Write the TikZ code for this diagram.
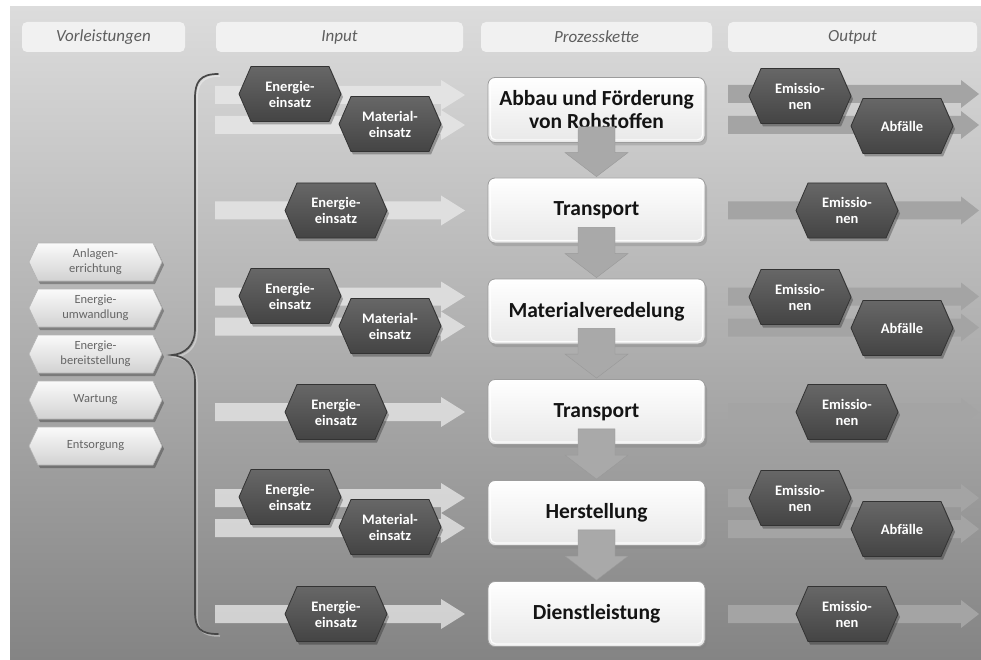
\documentclass[tikz,border=0pt]{standalone}
\usepackage{fontspec}
\setmainfont{Carlito}
\usetikzlibrary{shadows,calc}
\definecolor{bgtop}{HTML}{DCDCDC}
\definecolor{bgbot}{HTML}{848484}
\definecolor{hdrfill}{HTML}{F1F1F1}
\definecolor{hdrtext}{HTML}{5E5E5E}
\definecolor{hexdtop}{HTML}{676767}
\definecolor{hexdbot}{HTML}{444444}
\definecolor{hexdline}{HTML}{333333}
\definecolor{hexltop}{HTML}{FAFAFA}
\definecolor{hexlbot}{HTML}{D2D2D2}
\definecolor{hexlline}{HTML}{B4B4B4}
\definecolor{hexltext}{HTML}{656565}
\definecolor{inarrc}{HTML}{EAEAEA}
\definecolor{outarrc}{HTML}{A4A4A4}
\definecolor{downarrc}{HTML}{A9A9A9}
\definecolor{bracec}{HTML}{474747}
\definecolor{procline}{HTML}{9C9C9C}

% hexagon outline: style, x, y, half width, half height, inset
\newcommand\hexshape[6]{%
  \path[#1] ({#2-#4},{#3}) -- ({#2-#4+#6},{#3-#5}) -- ({#2+#4-#6},{#3-#5})
    -- ({#2+#4},{#3}) -- ({#2+#4-#6},{#3+#5}) -- ({#2-#4+#6},{#3+#5}) -- cycle;}
% dark hexagon: name, x, y, text
\newcommand\darkhex[4]{%
  \hexshape{hexshadow}{#2+2}{#3+3}{51}{27.5}{12}%
  \hexshape{hexdark}{#2}{#3}{51}{27.5}{12}%
  \node[hextext] (#1) at (#2,#3) {#4};}
% light hexagon: name, y, text
\newcommand\lighthex[3]{%
  \hexshape{hexshadow}{97.5}{#2+3}{66.5}{19}{9}%
  \hexshape{hexlight}{95.5}{#2}{66.5}{19}{9}%
  \node[hexltextstyle] (#1) at (95.5,#2) {#3};}
% fat horizontal arrow: style, x1, x2, y, shaft half, head half, head length
\newcommand\fatarr[7]{%
  \fill[#1] (#2,{#4-#5}) -- ({#3-#7},{#4-#5}) -- ({#3-#7},{#4-#6}) -- (#3,#4)
    -- ({#3-#7},{#4+#6}) -- ({#3-#7},{#4+#5}) -- (#2,{#4+#5}) -- cycle;}
% down arrow between two process boxes
\newcommand\downarr[2]{%
  \path[downarrstyle] ([xshift=-18.5pt,yshift=16pt]#1.south)
    -- ([xshift=-18.5pt,yshift=25pt]#2.north)
    -- ([xshift=-31.5pt,yshift=25pt]#2.north)
    -- ([yshift=1pt]#2.north)
    -- ([xshift=31.5pt,yshift=25pt]#2.north)
    -- ([xshift=18.5pt,yshift=25pt]#2.north)
    -- ([xshift=18.5pt,yshift=16pt]#1.south) -- cycle;}

\begin{document}
\begin{tikzpicture}[x=1pt,y=-1pt,
  header/.style={rounded corners=5pt, fill=hdrfill, minimum height=30pt,
    inner sep=0pt, text=hdrtext, font=\fontsize{17}{20}\selectfont\itshape},
  hexshadow/.style={fill=black, opacity=0.28},
  hexdark/.style={top color=hexdtop, bottom color=hexdbot, draw=hexdline, line width=0.8pt},
  hextext/.style={text=white, align=center, inner sep=0pt,
    font=\fontsize{14.5}{16}\selectfont\bfseries},
  hexlight/.style={top color=hexltop, bottom color=hexlbot, draw=hexlline, line width=0.6pt},
  hexltextstyle/.style={text=hexltext, align=center, inner sep=0pt,
    font=\fontsize{12.5}{15}\selectfont},
  procbox/.style={rounded corners=7pt, minimum width=217pt, minimum height=65pt,
    top color=white, bottom color=black!9, draw=procline, line width=0.8pt,
    align=center, inner sep=0pt, text=black!92,
    font=\fontsize{21.5}{23}\selectfont\bfseries,
    drop shadow={shadow xshift=2pt, shadow yshift=-3pt, opacity=0.35}},
  procinner/.style={rounded corners=5pt, draw=white, line width=1.2pt, opacity=0.9},
  inarr/.style={fill=inarrc, opacity=0.75},
  outarr/.style={fill=outarrc},
  downarrstyle/.style={fill=downarrc, draw=black!40, line width=0.4pt},
  bracestyle/.style={draw=bracec, line width=1.7pt, line cap=round}]

\useasboundingbox (0,0) rectangle (981,660);
\fill[white] (0,0) rectangle (981,660);
\fill[top color=bgtop, bottom color=bgbot] (10,7) rectangle (981,660);

% headers
\node[header, minimum width=163pt] (hv) at (103.5,37) {Vorleistungen};
\node[header, minimum width=247pt] (hi) at (339.5,37) {Input};
\node[header, minimum width=231pt] (hp) at (596.5,37) {Prozesskette};
\node[header, minimum width=249pt] (ho) at (852.5,37) {Output};

% brace
\draw[draw=white, opacity=0.35, line width=1.5pt]
  (220,76) .. controls (202,76) and (197,84) .. (197,100) -- (197,332)
  .. controls (197,347) and (187,356) .. (174,357)
  .. controls (187,358) and (197,367) .. (197,382) -- (197,614)
  .. controls (197,630) and (202,636) .. (220,636);
\draw[bracestyle]
  (218,74) .. controls (200,74) and (195,82) .. (195,98) -- (195,330)
  .. controls (195,345) and (185,354) .. (172,355)
  .. controls (185,356) and (195,365) .. (195,380) -- (195,612)
  .. controls (195,628) and (200,634) .. (218,634);

% Vorleistungen
\lighthex{v1}{262}{Anlagen-\\errichtung}
\lighthex{v2}{308}{Energie-\\umwandlung}
\lighthex{v3}{354}{Energie-\\bereitstellung}
\lighthex{v4}{400}{Wartung}
\lighthex{v5}{446}{Entsorgung}

% input arrows
\fatarr{inarr}{215}{465}{95}{9}{15}{24}
\fatarr{inarr}{215}{465}{125}{9}{15}{24}
\fatarr{inarr}{215}{465}{210.5}{9}{15}{24}
\fatarr{inarr}{215}{465}{296.5}{9}{15}{24}
\fatarr{inarr}{215}{465}{326.5}{9}{15}{24}
\fatarr{inarr}{215}{465}{412}{9}{15}{24}
\fatarr{inarr}{215}{465}{498}{9}{15}{24}
\fatarr{inarr}{215}{465}{528}{9}{15}{24}
\fatarr{inarr}{215}{465}{614}{9}{15}{24}

% input hexagons
\darkhex{e1}{290}{94}{Energie-\\einsatz}
\darkhex{m1}{390}{124}{Material-\\einsatz}
\darkhex{e2}{336}{210.5}{Energie-\\einsatz}
\darkhex{e3}{290}{296}{Energie-\\einsatz}
\darkhex{m3}{390}{326}{Material-\\einsatz}
\darkhex{e4}{336}{412}{Energie-\\einsatz}
\darkhex{e5}{290}{497}{Energie-\\einsatz}
\darkhex{m5}{390}{527}{Material-\\einsatz}
\darkhex{e6}{336}{614}{Energie-\\einsatz}

% process chain
\foreach \nm/\yy/\tx in {p1/110/{Abbau und F\"orderung\\von Rohstoffen},
    p2/210.5/Transport, p3/311.5/Materialveredelung, p4/412/Transport,
    p5/513/Herstellung, p6/614/Dienstleistung}{
  \node[procbox] (\nm) at (596.5,\yy) {\tx};
  \draw[procinner] ([shift={(3pt,-3pt)}]\nm.north west) rectangle ([shift={(-3pt,3pt)}]\nm.south east);
}
\downarr{p1}{p2}
\downarr{p2}{p3}
\downarr{p3}{p4}
\downarr{p4}{p5}
\downarr{p5}{p6}

% output arrows
\fatarr{outarr}{728}{979}{94}{9}{14}{18}
\fatarr{outarr}{728}{979}{125}{9}{14}{18}
\fatarr{outarr}{728}{979}{210.5}{9}{14}{18}
\fatarr{outarr}{728}{979}{296.5}{9}{14}{18}
\fatarr{outarr}{728}{979}{327.5}{9}{14}{18}
\fatarr{outarr}{728}{979}{412}{9}{14}{18}
\fatarr{outarr}{728}{979}{498}{9}{14}{18}
\fatarr{outarr}{728}{979}{529}{9}{14}{18}
\fatarr{outarr}{728}{979}{614}{9}{14}{18}

% output hexagons
\darkhex{o1}{800}{96}{Emissio-\\nen}
\darkhex{a1}{902}{126}{Abf\"alle}
\darkhex{o2}{847}{210.5}{Emissio-\\nen}
\darkhex{o3}{800}{297}{Emissio-\\nen}
\darkhex{a3}{902}{328}{Abf\"alle}
\darkhex{o4}{847}{412}{Emissio-\\nen}
\darkhex{o5}{800}{498}{Emissio-\\nen}
\darkhex{a5}{902}{529}{Abf\"alle}
\darkhex{o6}{847}{614}{Emissio-\\nen}
\end{tikzpicture}
\end{document}
